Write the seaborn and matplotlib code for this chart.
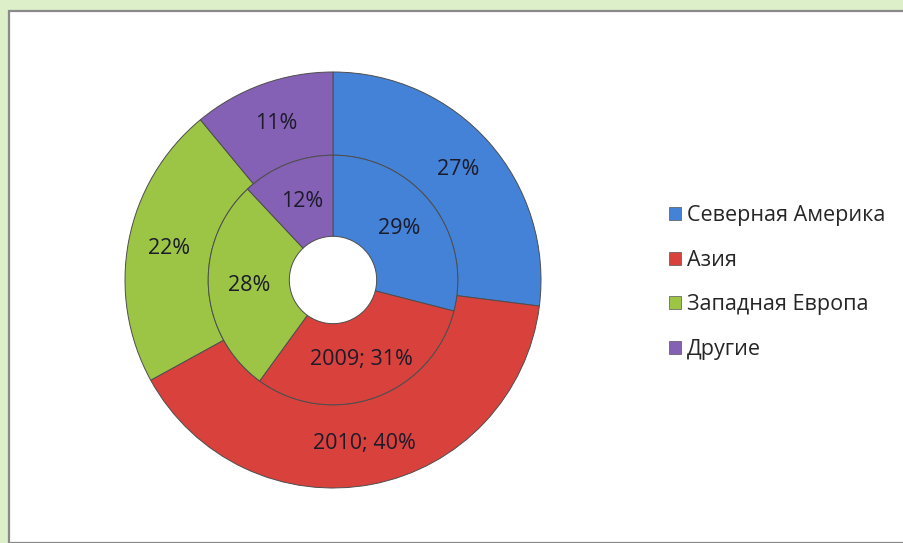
import matplotlib
matplotlib.use("Agg")
import matplotlib.pyplot as plt
import seaborn as sns
import numpy as np
from matplotlib.patches import Rectangle, Patch

# Данные
regions = ["Северная Америка", "Азия", "Западная Европа", "Другие"]
share_2010 = [27, 40, 22, 11]
share_2009 = [29, 31, 28, 12]
colors = ["#4382d6", "#d9413d", "#9cc445", "#8561b5"]

sns.set_theme(style="white")
plt.rcParams["font.family"] = ["Open Sans", "DejaVu Sans"]

fig = plt.figure(figsize=(9.04, 5.43), dpi=100)
fig.patch.set_facecolor("#dcefc8")

# белая рамка
W, H = 904, 543
fig.patches.append(Rectangle((9 / W, 0), 1, 1 - 11 / H, transform=fig.transFigure,
                             facecolor="white", edgecolor="#8a8a8a", linewidth=1.6, zorder=-5))

cx, cy, R = 333, 280, 208
ax = fig.add_axes([(cx - R) / W, (H - cy - R) / H, 2 * R / W, 2 * R / H])
ax.set_facecolor("none")
ax.set_zorder(2)
palette = sns.color_palette(colors)

wp = dict(edgecolor="#4d4d4d", linewidth=0.7)
outer, _ = ax.pie(share_2010, radius=1.0, colors=palette, startangle=90, counterclock=False,
                  wedgeprops=dict(width=0.40, **wp))
inner, _ = ax.pie(share_2009, radius=0.60, colors=palette, startangle=90, counterclock=False,
                  wedgeprops=dict(width=0.39, **wp))
ax.set_xlim(-1, 1)
ax.set_ylim(-1, 1)
ax.set_aspect("equal")


def put_labels(wedges, values, r, year):
    for i, (w, v) in enumerate(zip(wedges, values)):
        ang = np.deg2rad((w.theta1 + w.theta2) / 2)
        txt = f"{year}; {v}%" if i == 1 else f"{v}%"
        ax.text(r * np.cos(ang), r * np.sin(ang), txt, ha="center", va="center",
                fontsize=15.5, color="#1b1b2a")


put_labels(outer, share_2010, 0.80, 2010)
put_labels(inner, share_2009, 0.405, 2009)

handles = [Patch(facecolor=c, edgecolor="#555555", linewidth=0.5) for c in palette]
leg = fig.legend(handles, regions, loc="upper left", bbox_to_anchor=(669 / W, 1 - 205 / H),
                 frameon=False, fontsize=15.5, handlelength=0.55, handleheight=0.55,
                 handletextpad=0.3, labelspacing=1.1, borderaxespad=0, borderpad=0)
leg.set_zorder(3)

fig.savefig("out.png", dpi=100, facecolor=fig.get_facecolor())
